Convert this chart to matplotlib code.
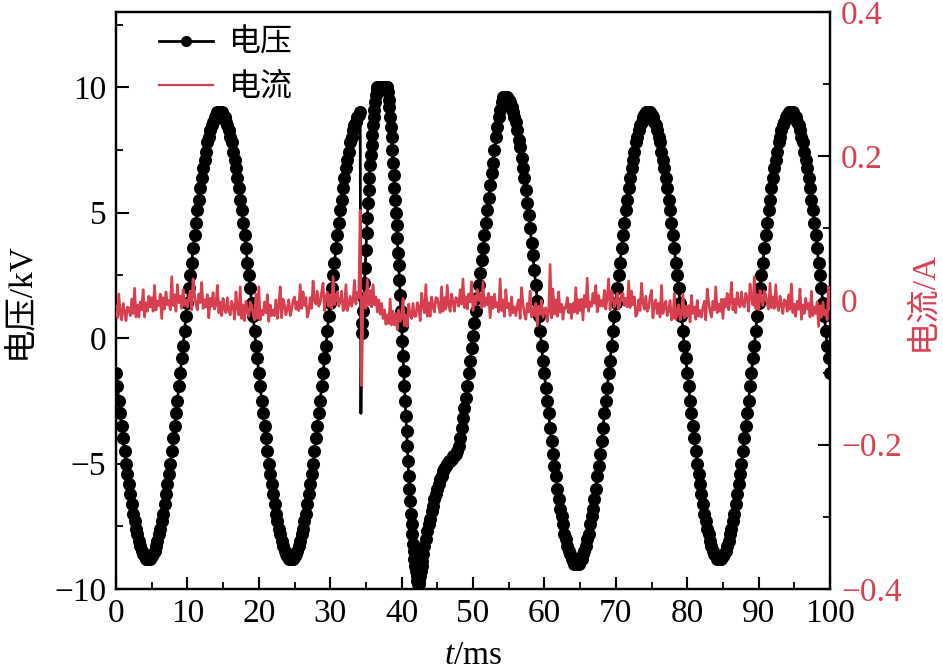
import numpy as np
import matplotlib
matplotlib.use("Agg")
import matplotlib.pyplot as plt
from matplotlib.lines import Line2D
from matplotlib.ticker import MultipleLocator, FixedLocator

plt.rcParams['font.family'] = ['Liberation Serif', 'Noto Sans CJK SC']
plt.rcParams['mathtext.fontset'] = 'custom'
plt.rcParams['mathtext.rm'] = 'Liberation Serif'
plt.rcParams['mathtext.it'] = 'Liberation Serif:italic'

# ---------------- data ----------------
# voltage (kV), segment A: t = 0.0 ... 34.2 ms, step 0.2 ms
v_seg_a = [
    -1.4, -1.9, -2.5, -3.0, -3.5, -4.0, -4.5, -5.0, -5.4, -5.8, -6.2, -6.6, -7.0, -7.3, -7.6, -7.8,
    -8.1, -8.3, -8.5, -8.6, -8.7, -8.8, -8.8,
    -8.8, -8.8, -8.7, -8.6, -8.5, -8.3, -8.1, -7.8, -7.6, -7.3, -7.0, -6.6, -6.2, -5.8, -5.4, -5.0,
    -4.5, -4.0, -3.5, -3.0, -2.5, -1.9, -1.4, -0.8, -0.3,
    0.3, 0.9, 1.4, 2.0, 2.5, 3.0, 3.6, 4.1, 4.6, 5.1, 5.5, 6.0, 6.4, 6.8, 7.1, 7.4, 7.8, 8.0, 8.3,
    8.5, 8.6, 8.8, 8.9, 9.0, 9.0,
    9.0, 9.0, 8.9, 8.8, 8.6, 8.5, 8.3, 8.0, 7.8, 7.4, 7.1, 6.8, 6.4, 6.0, 5.5, 5.1, 4.6, 4.1, 3.6,
    3.0, 2.5, 2.0, 1.4, 0.9, 0.3,
    -0.3, -0.8, -1.4, -1.9, -2.5, -3.0, -3.5, -4.0, -4.5, -5.0, -5.4, -5.8, -6.2, -6.6, -7.0, -7.3,
    -7.6, -7.8, -8.1, -8.3, -8.5, -8.6, -8.7, -8.8, -8.8,
    -8.8, -8.8, -8.7, -8.6, -8.5, -8.3, -8.1, -7.8, -7.6, -7.3, -7.0, -6.6, -6.2, -5.8, -5.4, -5.0,
    -4.5, -4.0, -3.5, -3.0, -2.5, -1.9, -1.4, -0.8, -0.3,
    0.3, 0.9, 1.4, 2.0, 2.5, 3.0, 3.6, 4.1, 4.6, 5.1, 5.5, 6.0, 6.4, 6.8, 7.1, 7.4, 7.8, 8.0, 8.3,
    8.5, 8.6, 8.8, 8.9, 9.0,
]
# voltage (kV), segment B (disturbance): t = 34.3 ... 43.0 ms, step 0.1 ms
v_seg_b = [
    -3.0, 0.2, 0.6, 1.1, 1.6, 2.2, 2.8, 3.5, 4.2, 4.8, 5.4, 5.9, 6.4, 6.9, 7.3, 7.7, 8.1, 8.5, 8.8,
    9.1, 9.4, 9.7, 9.9,
    10.0, 10.0, 10.0, 10.0, 10.0, 10.0, 10.0, 10.0, 10.0, 10.0, 10.0, 10.0, 10.0, 10.0, 10.0,
    9.8, 9.5, 9.2, 8.8, 8.4, 8.0, 7.5, 7.0, 6.5, 6.0, 5.5, 5.0, 4.5, 4.0, 3.4, 2.9, 2.3, 1.7, 1.1,
    0.5, -0.1, -0.7, -1.3, -1.9, -2.5, -3.1, -3.7, -4.3, -4.9, -5.5, -6.0, -6.5, -7.0, -7.4, -7.8,
    -8.2, -8.5, -8.8, -9.1, -9.3, -9.5, -9.7, -9.8, -9.8, -9.7, -9.5, -9.3, -9.1, -8.9, -8.6,
]
# voltage (kV), segment C: t = 43.2 ... 100.0 ms, step 0.2 ms
v_seg_c = [
    -8.3, -8.0, -7.7, -7.4, -7.2, -6.9, -6.7, -6.4, -6.2, -6.0, -5.8, -5.6, -5.5, -5.3, -5.2, -5.1,
    -5.0, -4.9, -4.9, -4.8, -4.7, -4.7, -4.6, -4.5, -4.3, -4.0, -3.6, -3.2, -2.8, -2.4, -1.9, -1.4,
    -0.9, -0.4, 0.1, 0.6, 1.1, 1.6, 2.1, 2.6, 3.1, 3.6, 4.1, 4.6, 5.1, 5.6, 6.1, 6.6, 7.0, 7.5,
    8.0, 8.4, 8.8, 9.1, 9.4,
    9.6, 9.6,
    9.6, 9.6, 9.5, 9.4, 9.2, 9.0, 8.8, 8.6, 8.3, 7.9, 7.6, 7.2, 6.8, 6.4, 5.9, 5.4, 4.9, 4.4, 3.8,
    3.3, 2.7, 2.1, 1.5, 0.9, 0.3,
    -0.3, -0.9, -1.4, -2.0, -2.5, -3.0, -3.6, -4.1, -4.6, -5.1, -5.5, -6.0, -6.4, -6.8, -7.1, -7.4,
    -7.8, -8.0, -8.3, -8.5, -8.6, -8.8, -8.9, -9.0, -9.0,
    -9.0, -9.0, -8.9, -8.8, -8.6, -8.5, -8.3, -8.0, -7.8, -7.4, -7.1, -6.8, -6.4, -6.0, -5.5, -5.1,
    -4.6, -4.1, -3.6, -3.0, -2.5, -2.0, -1.4, -0.9, -0.3,
    0.3, 0.9, 1.4, 2.0, 2.5, 3.0, 3.6, 4.1, 4.6, 5.1, 5.5, 6.0, 6.4, 6.8, 7.1, 7.4, 7.8, 8.0, 8.3,
    8.5, 8.6, 8.8, 8.9, 9.0, 9.0,
    9.0, 9.0, 8.9, 8.8, 8.6, 8.5, 8.3, 8.0, 7.8, 7.4, 7.1, 6.8, 6.4, 6.0, 5.5, 5.1, 4.6, 4.1, 3.6,
    3.0, 2.5, 2.0, 1.4, 0.9, 0.3,
    -0.3, -0.8, -1.4, -1.9, -2.5, -3.0, -3.5, -4.0, -4.5, -5.0, -5.4, -5.8, -6.2, -6.6, -7.0, -7.3,
    -7.6, -7.8, -8.1, -8.3, -8.5, -8.6, -8.7, -8.8, -8.8,
    -8.8, -8.8, -8.7, -8.6, -8.5, -8.3, -8.1, -7.8, -7.6, -7.3, -7.0, -6.6, -6.2, -5.8, -5.4, -5.0,
    -4.5, -4.0, -3.5, -3.0, -2.5, -1.9, -1.4, -0.8, -0.3,
    0.3, 0.9, 1.4, 2.0, 2.5, 3.0, 3.6, 4.1, 4.6, 5.1, 5.5, 6.0, 6.4, 6.8, 7.1, 7.4, 7.8, 8.0, 8.3,
    8.5, 8.6, 8.8, 8.9, 9.0, 9.0,
    9.0, 9.0, 8.9, 8.8, 8.6, 8.5, 8.3, 8.0, 7.8, 7.4, 7.1, 6.8, 6.4, 6.0, 5.5, 5.1, 4.6, 4.1, 3.6,
    3.0, 2.5, 2.0, 1.4, 0.9, 0.3,
    -0.3, -0.8, -1.4,
]

# current (mA), t = 0 ... 100 ms, step 0.2 ms
i_ma_00_20 = [
    -8, -24, 9, -19, -27, -4, -15, -28, -9, -11, -21, 2, -18, 17, -23, -6, -23, -2, -13, 15,
    -23, -3, -15, 6, -9, 4, -15, 21, -13, -1, -7, 9, -25, 4, -12, 12, -6, 0, -13, 33,
    -7, 8, -15, 22, -3, 6, -11, 15, -7, 1, -9, 5, 13, -13, 30, 8, -5, -13, 9, -3,
    25, -11, 1, -9, 8, -24, 3, -8, 11, -12, -6, 21, -17, -2, -21, 3, -12, -17, 4, -14,
    -20, -1, -7, -26, 12, -10, -20, 19, -25, -6, -28, -1, -15, -22, -2, -7, -19, -27, 9, -25,
]
i_ma_20_40 = [
    19, -27, -14, -20, -2, -17, 8, -29, -6, -21, -13, -21, 1, -25, -8, 19, -24, 2, -6, -20,
    -11, 1, -21, -13, 0, 5, -12, -2, -14, 22, -11, 12, -7, 4, -23, -15, 4, -11, 27, 0,
    -5, 13, -8, -3, 12, 24, -14, 5, 11, -8, 8, -11, 33, -6, 4, 12, -8, -1, 13, -14,
    -12, 22, -14, -6, 6, -8, 0, 28, -5, 11, 4, 125, -118, 0, 11, -11, 29, -6, 14, -9,
    22, -6, 5, -16, 1, -19, -4, -25, -13, -33, -20, -32, 2, -34, -15, -34, -18, -40, -13, -29,
]
i_ma_40_60 = [
    -24, 3, -35, -20, -36, -5, -20, -25, -4, -22, -22, -3, -9, -28, 10, -7, -17, 22, -22, -3,
    -22, 5, -9, -16, 4, 3, -9, -17, 19, -15, 4, -12, 21, -7, -15, 9, -2, -15, 4, 2,
    -8, 15, -5, 30, -10, 5, -12, 9, -2, 26, -14, 6, -6, 15, 0, 9, -10, 26, -8, 4,
    -6, 10, -24, 5, -11, 9, -9, -3, -16, 30, -14, 1, -22, 15, -10, -4, -21, 5, -17, -9,
    -21, -7, 1, -25, 18, -5, -18, -26, -4, -16, 13, -23, -11, -21, -4, -35, -8, -19, 0, -23,
]
i_ma_60_80 = [
    -12, -10, -29, -16, 50, -24, 16, -19, 1, -22, 12, -16, -5, -26, -9, -11, 4, -17, -5, -25,
    -4, -16, 18, -18, 1, -14, 2, -27, 7, -9, 31, -15, -2, -8, 10, -4, 21, -16, 7, -8,
    0, -8, 14, -12, 5, 30, -13, 13, 5, -9, -2, 10, -12, -4, 9, 10, -7, 3, -9, 27,
    -10, 13, -6, 5, -22, -18, 1, -14, 24, -3, -12, 6, -15, -10, 5, 14, -24, -5, 1, -18,
    -4, -23, 21, -18, -8, -1, -21, -14, 0, -27, -24, 10, -26, -18, -6, -27, -19, 9, -24, -8,
]
i_ma_80_100 = [
    -22, -7, -30, 7, -18, -9, -26, 0, -22, -14, -23, -9, -1, -27, 16, -2, -15, -23, -1, -13,
    19, -17, -5, -15, 2, -25, 2, -9, 10, -13, -2, 25, -13, 2, -17, 11, -4, -9, 12, -6,
    -9, 10, 4, -15, 23, 4, -6, 33, -11, 8, -13, 14, 0, -7, 13, 8, -4, -12, 24, -10,
    5, -11, 22, -6, -14, 6, -5, -18, 1, -1, -15, 8, -12, 23, -17, -5, -22, -1, -12, 16,
    -26, -6, -18, 3, -12, -4, -23, 13, -21, -9, -18, -2, -36, -7, -23, -2, -20, -14, -27, 19,
    -12,
]

x_ticks = [0, 10, 20, 30, 40, 50, 60, 70, 80, 90, 100]
v_ticks = [-10, -5, 0, 5, 10]
i_ticks = [-0.4, -0.2, 0.0, 0.2, 0.4]
i_tick_labels = ['\u22120.4', '\u22120.2', '0', '0.2', '0.4']
v_tick_labels = ['\u221210', '\u22125', '0', '5', '10']

# ---------------- assemble ----------------
t_a = np.round(np.arange(0, 34.2 + 1e-6, 0.2), 2)
t_b = np.round(np.arange(34.3, 43.0 + 1e-6, 0.1), 2)
t_c = np.round(np.arange(43.2, 100.0 + 1e-6, 0.2), 2)
assert len(t_a) == len(v_seg_a), (len(t_a), len(v_seg_a))
assert len(t_b) == len(v_seg_b), (len(t_b), len(v_seg_b))
assert len(t_c) == len(v_seg_c), (len(t_c), len(v_seg_c))
t_v = np.concatenate([t_a, t_b, t_c])
v = np.array(v_seg_a + v_seg_b + v_seg_c)

i_ma = np.array(i_ma_00_20 + i_ma_20_40 + i_ma_40_60 + i_ma_60_80 + i_ma_80_100)
t_i = np.round(np.arange(0, 100.0 + 1e-6, 0.2), 2)
assert len(t_i) == len(i_ma), (len(t_i), len(i_ma))
i_a = i_ma / 1000.0

red = '#d8404f'

fig = plt.figure(figsize=(9.43, 6.72), dpi=100)
ax = fig.add_axes([116 / 943, (672 - 589) / 672, 714 / 943, 577 / 672])
ax2 = ax.twinx()

spike_idx = len(v_seg_a)
marks = [k for k in range(len(v)) if k != spike_idx]
ax.plot(t_v, v, color='black', lw=2.0, marker='o', ms=9.4, markevery=marks,
        markeredgewidth=0, zorder=3)
ax2.plot(t_i, i_a, color=red, lw=1.9, zorder=3)

ax.set_xlim(0, 100)
ax.set_ylim(-10, 13)
ax2.set_ylim(-0.4, 0.4)

ax.xaxis.set_major_locator(FixedLocator(x_ticks))
ax.xaxis.set_minor_locator(MultipleLocator(5))
ax.yaxis.set_major_locator(FixedLocator(v_ticks))
ax.set_yticklabels(v_tick_labels)
ax.yaxis.set_minor_locator(MultipleLocator(2.5))
ax2.yaxis.set_major_locator(FixedLocator(i_ticks))
ax2.set_yticklabels(i_tick_labels)
ax2.yaxis.set_minor_locator(MultipleLocator(0.1))

fs = 24
for a in (ax, ax2):
    for s in a.spines.values():
        s.set_linewidth(1.6)
        s.set_color('black')
ax.tick_params(axis='both', which='major', direction='in', length=9, width=1.5,
               labelsize=fs, top=False, right=False, pad=7)
ax.tick_params(axis='both', which='minor', direction='in', length=5, width=1.3,
               top=False, right=False)
ax2.tick_params(axis='y', which='major', direction='in', length=9, width=1.5,
                labelsize=fs, labelcolor=red, pad=8)
ax2.tick_params(axis='y', which='minor', direction='in', length=5, width=1.3)

ax.set_xlabel(r'$t$/ms', fontsize=fs, labelpad=8)
ax.set_ylabel('电压/kV', fontsize=fs, labelpad=14)
ax2.set_ylabel('电流/A', fontsize=fs, color=red, labelpad=4)

handles = [Line2D([], [], color='black', lw=2, marker='o', ms=7),
           Line2D([], [], color=red, lw=1.6)]
ax2.legend(handles, ['电压', '电流'], loc='upper left', bbox_to_anchor=(0.035, 1.0),
           frameon=False, fontsize=23, handlelength=1.7, handletextpad=0.5,
           labelspacing=0.45, borderaxespad=0.15)

fig.savefig('out.png', dpi=100)
